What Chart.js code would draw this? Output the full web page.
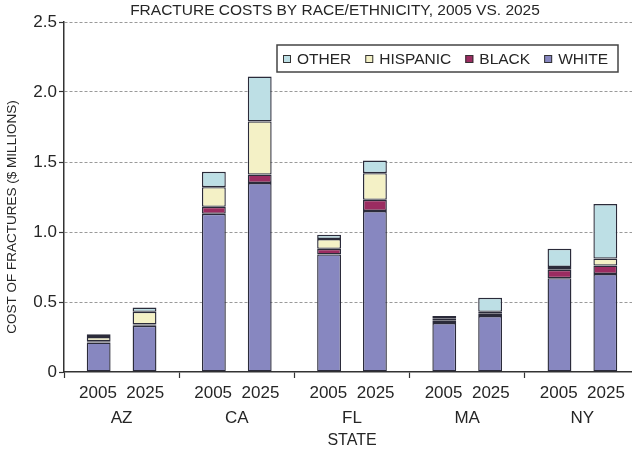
<!DOCTYPE html>
<html>
<head>
<meta charset="utf-8">
<script src="https://cdn.jsdelivr.net/npm/chart.js@4"></script>
<style>
  html, body { margin: 0; padding: 0; background: #fff; overflow: hidden; }
  #wrap { width: 632px; height: 449px; overflow: hidden; }
  #box { width: 640px; height: 449px; }
</style>
</head>
<body>
<div id="wrap"><div id="box"><canvas id="canvas1"></canvas></div></div>
<script>
// data ($ millions)
const states = ['AZ', 'CA', 'FL', 'MA', 'NY'];
const years = ['2005', '2025'];
const races = ['WHITE', 'BLACK', 'HISPANIC', 'OTHER'];

const white2005 = [0.21, 1.13, 0.84, 0.35, 0.67];
const black2005 = [0.01, 0.05, 0.04, 0.02, 0.06];
const hispanic2005 = [0.03, 0.14, 0.07, 0.01, 0.02];
const other2005 = [0.02, 0.11, 0.03, 0.02, 0.13];

const white2025 = [0.33, 1.35, 1.15, 0.40, 0.70];
const black2025 = [0.01, 0.06, 0.08, 0.02, 0.06];
const hispanic2025 = [0.09, 0.38, 0.19, 0.01, 0.05];
const other2025 = [0.03, 0.32, 0.09, 0.10, 0.39];

const yTicks = [0, 0.5, 1.0, 1.5, 2.0, 2.5];

const colors = {
    WHITE: '#8787c0',
    BLACK: '#9b2c61',
    HISPANIC: '#f4f1c6',
    OTHER: '#bddfe5'
};

const series = {
    '2005': [white2005, black2005, hispanic2005, other2005],
    '2025': [white2025, black2025, hispanic2025, other2025]
};

const FONT = "'Liberation Sans', Arial, sans-serif";
const TXT = '#262626';

var datasets = [];
years.forEach((yr) => {
    races.forEach((race, i) => {
        datasets.push({
            label: race,
            data: series[yr][i],
            stack: yr,
            backgroundColor: colors[race],
            borderColor: '#2b2b3a',
            borderWidth: 1.4,
            borderSkipped: false,
            categoryPercentage: 0.796,
            barPercentage: 0.52
        });
    });
});

// title, y title and the boxed legend
const extras = {
    id: 'extras',
    afterDraw(chart) {
        const c = chart.ctx;
        c.save();
        c.fillStyle = TXT;
        c.textBaseline = 'middle';

        c.font = '15.5px ' + FONT;
        c.textAlign = 'center';
        c.fillText('FRACTURE COSTS BY RACE/ETHNICITY, 2005 VS. 2025', 335, 11);

        c.save();
        c.translate(12, 217);
        c.rotate(-Math.PI / 2);
        c.font = '13.5px ' + FONT;
        c.fillText('COST OF FRACTURES ($ MILLIONS)', 0, 0);
        c.restore();

        // legend
        c.fillStyle = '#fff';
        c.fillRect(277, 45, 341, 27);
        c.strokeStyle = '#444';
        c.lineWidth = 1.5;
        c.strokeRect(277, 45, 341, 27);
        c.font = '15.5px ' + FONT;
        c.textAlign = 'left';
        var x = 283;
        races.slice().reverse().forEach((race) => {
            c.fillStyle = colors[race];
            c.fillRect(x, 55, 8, 8);
            c.strokeStyle = '#333';
            c.lineWidth = 1;
            c.strokeRect(x + 0.5, 55.5, 7, 7);
            c.fillStyle = TXT;
            c.fillText(race, x + 14, 59.5);
            x += 14 + c.measureText(race).width + 14;
        });
        c.restore();
    }
};

const ctx1 = document.getElementById('canvas1');
const c1 = new Chart(ctx1, {
    type: 'bar',
    data: {
        labels: states.map((s) => [years.join('  '), s]),
        datasets: datasets
    },
    options: {
        responsive: true,
        maintainAspectRatio: false,
        animation: false,
        layout: { padding: { left: 26, top: 22, right: 0, bottom: 0 } },
        plugins: {
            legend: { display: false },
            title: { display: false },
            tooltip: { enabled: false }
        },
        scales: {
            x: {
                stacked: true,
                afterFit: (s) => { s.height = 77; },
                grid: {
                    display: true,
                    drawOnChartArea: false,
                    drawTicks: true,
                    tickLength: 6,
                    tickColor: '#333',
                    tickWidth: 1.2,
                    offset: true
                },
                border: { display: true, color: '#333', width: 1.5 },
                ticks: {
                    color: TXT,
                    padding: 2.5,
                    maxRotation: 0,
                    font: { family: FONT, size: 17, lineHeight: 1.47 }
                },
                title: {
                    display: true,
                    text: 'STATE',
                    color: TXT,
                    padding: { top: 0, bottom: -1.5 },
                    font: { family: FONT, size: 16 }
                }
            },
            y: {
                stacked: true,
                min: 0,
                max: 2.5,
                afterFit: (s) => { s.width = 38; },
                afterBuildTicks: (s) => { s.ticks = yTicks.map((v) => ({ value: v })); },
                grid: {
                    color: (c) => c.tick && c.tick.value === 0 ? 'rgba(0,0,0,0)' : '#9a9a9a',
                    lineWidth: 1,
                    drawTicks: true,
                    tickLength: 5,
                    tickColor: '#333',
                    tickWidth: 1.2
                },
                border: { display: true, color: '#333', width: 1.5, dash: [3, 2] },
                ticks: {
                    color: TXT,
                    padding: 2,
                    font: { family: FONT, size: 17 },
                    callback: (v) => v === 0 ? '0' : v.toFixed(1)
                }
            }
        }
    },
    plugins: [extras]
});
</script>
</body>
</html>
